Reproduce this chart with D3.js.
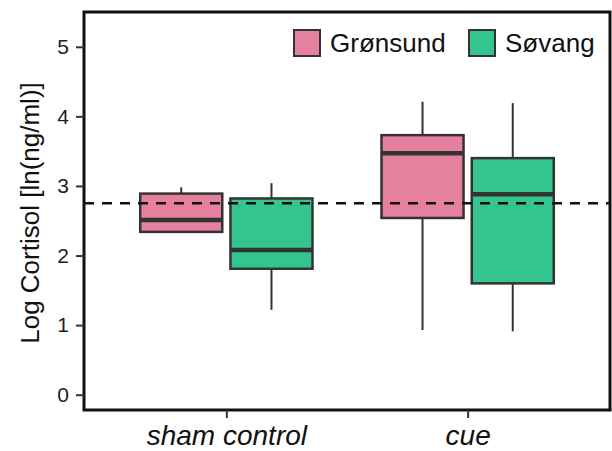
<!DOCTYPE html>
<html><head><meta charset="utf-8">
<script src="https://cdn.jsdelivr.net/npm/d3@7"></script>
<style>body{margin:0;background:#fff}svg{display:block;font-family:"Liberation Sans",Arial,sans-serif}</style>
</head><body><svg id="c" width="612" height="451"></svg>
<script>
const categories = ["sham control", "cue"];
const groups = ["Grønsund", "Søvang"];
const colors = ["#E6809F", "#34C58F"];
// [whiskerLow, q1, median, q3, whiskerHigh]
const gronsund = [[2.34, 2.34, 2.51, 2.89, 2.98], [0.93, 2.54, 3.47, 3.73, 4.21]];
const sovang = [[1.22, 1.81, 2.08, 2.82, 3.04], [0.91, 1.60, 2.88, 3.40, 4.19]];
const refLine = 2.75;
const yTicks = [0, 1, 2, 3, 4, 5];

const svg = d3.select("#c");
const L = 84, R = 610, T = 12, B = 410;
const x = d3.scalePoint().domain(categories).range([L, R]).padding(0.59);
const y = d3.scaleLinear().domain([-0.22, 5.5]).range([B, T]);
const step = x.step();
const bw = step * 0.34, off = step * 0.187;

const series = [gronsund, sovang];
series.forEach((s, gi) => {
  s.forEach((v, ci) => {
    const cx = x(categories[ci]) + (gi === 0 ? -off : off);
    const g = svg.append("g");
    g.append("line").attr("x1", cx).attr("x2", cx).attr("y1", y(v[0])).attr("y2", y(v[1]))
      .attr("stroke", "#333").attr("stroke-width", 2);
    g.append("line").attr("x1", cx).attr("x2", cx).attr("y1", y(v[3])).attr("y2", y(v[4]))
      .attr("stroke", "#333").attr("stroke-width", 2);
    g.append("rect").attr("x", cx - bw / 2).attr("width", bw)
      .attr("y", y(v[3])).attr("height", y(v[1]) - y(v[3]))
      .attr("fill", colors[gi]).attr("stroke", "#333").attr("stroke-width", 2.5);
    g.append("line").attr("x1", cx - bw / 2).attr("x2", cx + bw / 2).attr("y1", y(v[2])).attr("y2", y(v[2]))
      .attr("stroke", "#333").attr("stroke-width", 4.5);
  });
});

svg.append("line").attr("x1", L).attr("x2", R).attr("y1", y(refLine)).attr("y2", y(refLine))
  .attr("stroke", "#111").attr("stroke-width", 2.5).attr("stroke-dasharray", "10,8");

// panel border
svg.append("rect").attr("x", L).attr("y", T).attr("width", R - L).attr("height", B - T)
  .attr("fill", "none").attr("stroke", "#111").attr("stroke-width", 3);

// y axis
const ya = svg.append("g").attr("transform", `translate(${L},0)`)
  .call(d3.axisLeft(y).tickValues(yTicks).tickSize(8).tickPadding(7).tickFormat(d3.format("d")));
ya.select(".domain").remove();
ya.selectAll("line").attr("stroke", "#333").attr("stroke-width", 2);
ya.selectAll("text").attr("font-size", 21).attr("fill", "#222").style("font-family", "Liberation Sans, Arial, sans-serif");

// x axis
const xa = svg.append("g").attr("transform", `translate(0,${B})`)
  .call(d3.axisBottom(x).tickSize(8).tickPadding(7));
xa.select(".domain").remove();
xa.selectAll("line").attr("stroke", "#333").attr("stroke-width", 2);
xa.selectAll("text").attr("font-size", 28).attr("font-style", "italic").attr("fill", "#111")
  .style("font-family", "Liberation Sans, Arial, sans-serif");

// y title
svg.append("text").attr("transform", `translate(39,${(T + B) / 2 + 2}) rotate(-90)`)
  .attr("text-anchor", "middle").attr("font-size", 26).attr("fill", "#111")
  .text("Log Cortisol [ln(ng/ml)]");

// legend
const legX = [294, 469];
groups.forEach((gname, i) => {
  svg.append("rect").attr("x", legX[i]).attr("y", 30).attr("width", 26).attr("height", 26)
    .attr("fill", colors[i]).attr("stroke", "#333").attr("stroke-width", 2);
  svg.append("text").attr("x", legX[i] + 36).attr("y", 52).attr("font-size", 26).attr("fill", "#111")
    .text(gname);
});
</script></body></html>
